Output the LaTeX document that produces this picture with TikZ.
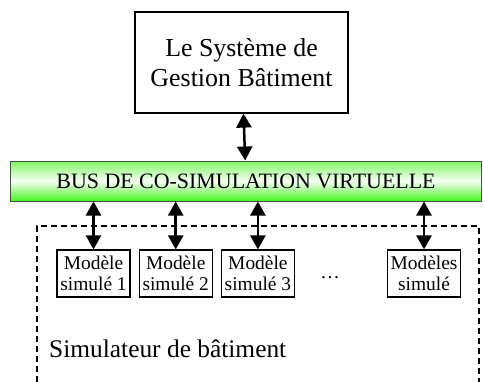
\documentclass[tikz,border=0pt]{standalone}
\usepackage{fontspec}
\setmainfont{Liberation Serif}
\usetikzlibrary{arrows.meta,positioning}
\definecolor{busgreen}{RGB}{70,245,30}

\begin{document}
\begin{tikzpicture}[x=1bp,y=-1bp,
    modelbox/.style={draw, rectangle, line width=1.2bp, minimum width=73bp, minimum height=47bp, inner sep=0pt, align=center, font=\fontsize{19.5}{21}\selectfont},
    link/.style={{Triangle[width=15bp,length=14bp]}-{Triangle[width=15bp,length=14bp]}, line width=2.5bp}]
    \useasboundingbox (0,0) rectangle (483,381);

    % Management system
    \node[draw, rectangle, line width=1.2bp, minimum width=213bp, minimum height=101bp, align=center, font=\fontsize{26}{30}\selectfont] (gtb) at (241.5,62.5) {Le Système de\\Gestion Bâtiment};

    % Bus
    \node[draw=black!70, rectangle, line width=1bp, minimum width=470bp, minimum height=40bp, top color=busgreen!70, bottom color=busgreen, middle color=busgreen!5, font=\fontsize{22}{26}\selectfont] (bus) at (246,181) {BUS DE CO-SIMULATION VIRTUELLE};

    % Simulator frame
    \draw[line width=1.5bp, dash pattern=on 6bp off 4bp] (37,392) |- (479,226) -- (479,392);

    % Models
    \node[modelbox] (m1) at (93.5,273.5) {Modèle\\simulé 1};
    \node[modelbox, right=8bp of m1] (m2) {Modèle\\simulé 2};
    \node[modelbox, right=8bp of m2] (m3) {Modèle\\simulé 3};
    \node[font=\fontsize{19.5}{21}\selectfont] (dots) at (330,278) {\dots};
    \node[modelbox] (mn) at (424,273.5) {Modèles\\simulé};

    % Links
    \draw[link] (gtb) -- (bus);
    \foreach \m in {m1,m2,m3,mn}
        \draw[link] (bus.south -| \m) -- (\m);

    % Label
    \node[anchor=base west, inner sep=0pt, font=\fontsize{25.5}{30}\selectfont] (simlabel) at (49,357) {Simulateur de bâtiment};
\end{tikzpicture}
\end{document}
